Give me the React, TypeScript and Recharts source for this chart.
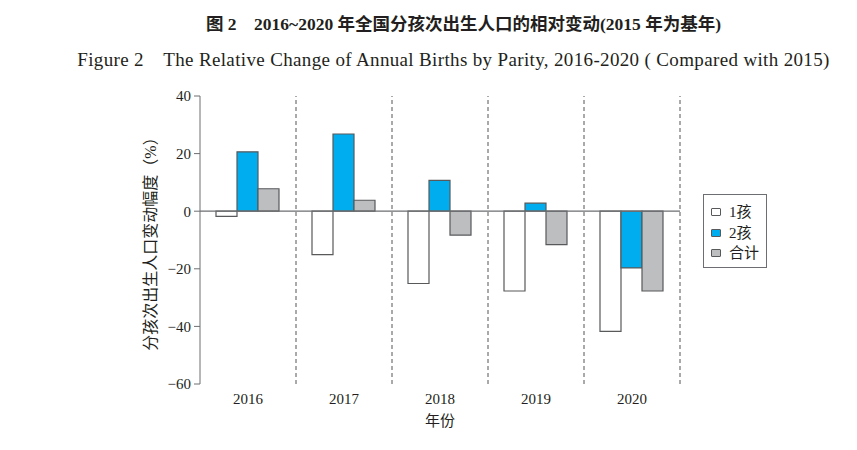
import React from "react";
import {
  BarChart,
  Bar,
  XAxis,
  YAxis,
  ReferenceLine,
} from "recharts";

const years = ["2016", "2017", "2018", "2019", "2020"];
const firstChild = [-1.8, -15.1, -25.1, -27.7, -41.7];
const secondChild = [20.6, 26.8, 10.7, 2.8, -19.7];
const totalBirths = [7.8, 3.8, -8.3, -11.6, -27.7];
const yTicks = [-60, -40, -20, 0, 20, 40];

const series = [
  { key: "first", name: "1孩", fill: "#ffffff" },
  { key: "second", name: "2孩", fill: "#00aeef" },
  { key: "total", name: "合计", fill: "#bcbec0" },
];

const data = years.map((year, i) => ({
  year,
  first: firstChild[i],
  second: secondChild[i],
  total: totalBirths[i],
}));

// dashed separators: left edge of every year after the first, right edge of the last
const separators = [
  ...years.slice(1).map((y) => ({ x: y, position: "start" as const })),
  { x: years[years.length - 1], position: "end" as const },
];

const serif = '"Liberation Serif", "Noto Sans CJK SC", serif';
const axisGray = "#6d6e71";

export default function App() {
  return (
    <div
      style={{
        position: "absolute",
        left: 0,
        top: 0,
        width: 857,
        height: 450,
        background: "#fff",
        fontFamily: serif,
        color: "#231f20",
      }}
    >
      <div
        style={{
          position: "absolute",
          top: 10,
          left: 0,
          width: 857,
          textAlign: "center",
          fontSize: 17.5,
          fontWeight: "bold",
          paddingLeft: 70,
          boxSizing: "border-box",
          whiteSpace: "nowrap",
        }}
      >
        图 2　2016~2020 年全国分孩次出生人口的相对变动(2015 年为基年)
      </div>
      <div
        style={{
          position: "absolute",
          top: 44,
          left: 0,
          width: 857,
          textAlign: "center",
          fontSize: 19,
          letterSpacing: 0.35,
          paddingLeft: 50,
          boxSizing: "border-box",
          whiteSpace: "nowrap",
        }}
      >
        Figure 2　The Relative Change of Annual Births by Parity, 2016-2020 ( Compared with 2015)
      </div>

      <div style={{ position: "absolute", left: 0, top: 0 }}>
        <BarChart
          width={857}
          height={450}
          data={data}
          margin={{ top: 96, right: 177, bottom: 0, left: 140 }}
          barCategoryGap={16}
          barGap={0}
        >
          <XAxis
            dataKey="year"
            axisLine={false}
            tickLine={false}
            tickSize={0}
            tickMargin={9}
            height={66}
            tick={{ fill: "#231f20", fontSize: 15, fontFamily: serif }}
            label={({ viewBox }: any) => (
              <text
                x={viewBox.x + viewBox.width / 2}
                y={viewBox.y + 42}
                textAnchor="middle"
                fontSize={15}
                fontFamily={serif}
                fill="#231f20"
              >
                年份
              </text>
            )}
          />
          <YAxis
            width={60}
            domain={[-60, 40]}
            ticks={yTicks}
            interval={0}
            stroke={axisGray}
            tickSize={6}
            tickMargin={3}
            tick={{ fill: "#231f20", fontSize: 15, fontFamily: serif }}
            tickFormatter={(v: number) => (v < 0 ? `−${-v}` : `${v}`)}
            label={({ viewBox }: any) => (
              <text
                x={viewBox.x + 10}
                y={viewBox.y + viewBox.height / 2}
                textAnchor="middle"
                dominantBaseline="central"
                transform={`rotate(-90 ${viewBox.x + 10} ${viewBox.y + viewBox.height / 2})`}
                fontSize={16}
                fontFamily={serif}
                fill="#231f20"
              >
                分孩次出生人口变动幅度（%）
              </text>
            )}
          />
          {separators.map((s, i) => (
            <ReferenceLine
              key={i}
              x={s.x}
              position={s.position}
              stroke="#555"
              strokeDasharray="4 3"
            />
          ))}
          <ReferenceLine y={0} stroke={axisGray} strokeWidth={1.2} />
          {series.map((s) => (
            <Bar
              key={s.key}
              dataKey={s.key}
              name={s.name}
              fill={s.fill}
              stroke="#58595b"
              strokeWidth={1.2}
              isAnimationActive={false}
            />
          ))}
        </BarChart>
      </div>

      <div
        style={{
          position: "absolute",
          left: 703,
          top: 194,
          width: 62,
          height: 72,
          border: "1px solid #6d6e71",
          boxSizing: "content-box",
        }}
      >
        {series.map((s, i) => (
          <div
            key={s.key}
            style={{
              position: "absolute",
              left: 7,
              top: 7 + i * 20.5,
              display: "flex",
              alignItems: "center",
              fontSize: 15,
              lineHeight: "20px",
              whiteSpace: "nowrap",
            }}
          >
            <span
              style={{
                display: "inline-block",
                width: 8,
                height: 6,
                background: s.fill,
                border: "1px solid #58595b",
                borderRadius: 1,
                marginRight: 8,
              }}
            />
            {s.name}
          </div>
        ))}
      </div>
    </div>
  );
}
